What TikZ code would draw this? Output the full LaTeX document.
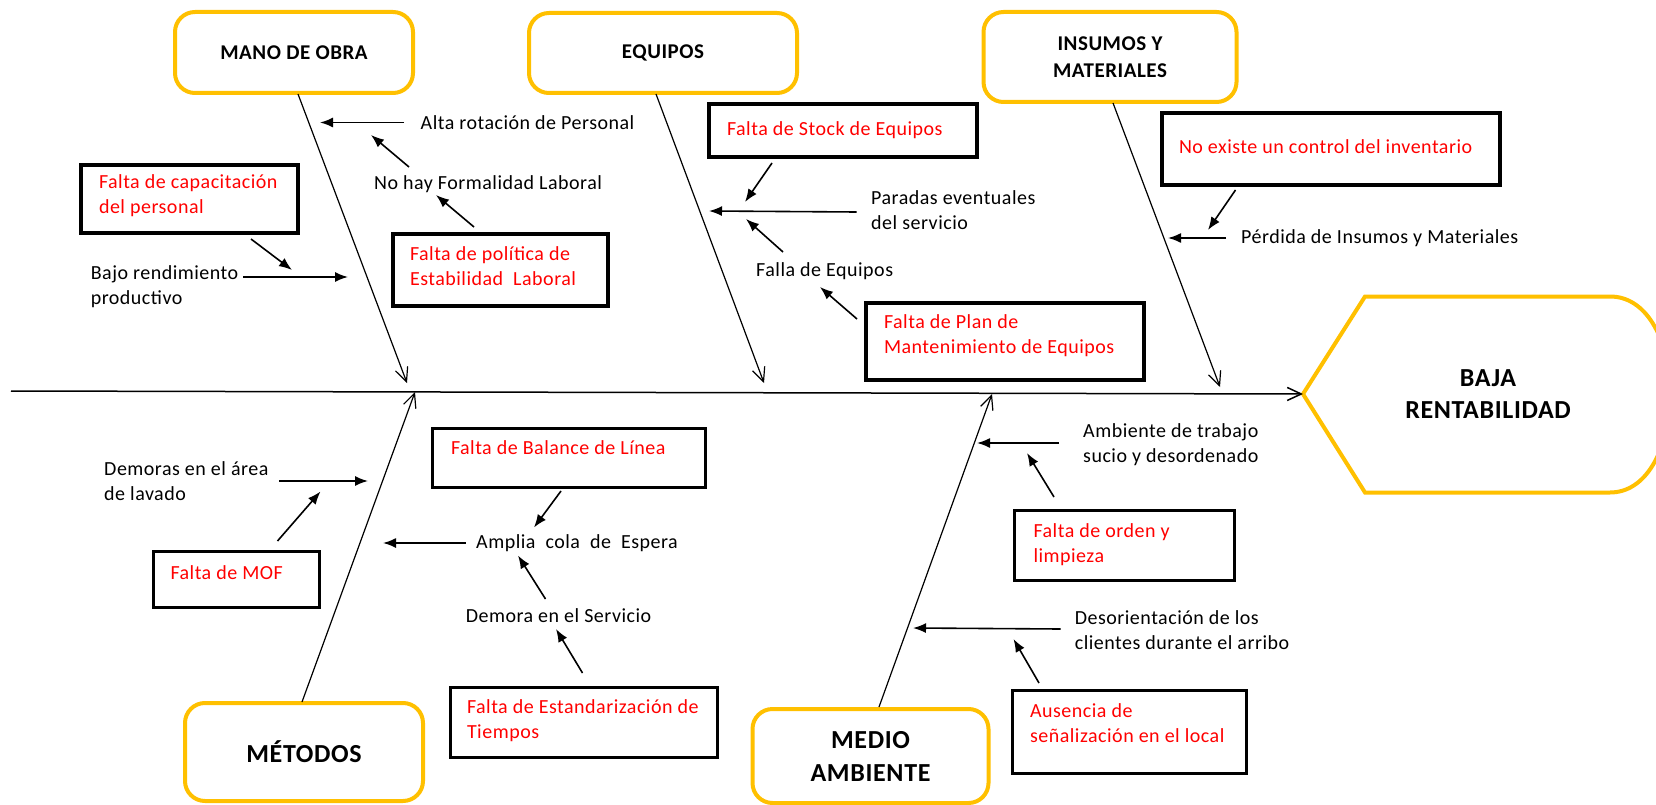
\documentclass[tikz,border=0pt]{standalone}
\usepackage{fontspec}
\setmainfont{Carlito}[LetterSpace=2.5]
\usetikzlibrary{arrows.meta}
\definecolor{catyellow}{HTML}{FFC000}
\definecolor{causered}{HTML}{FF0000}
\newcommand{\boxtxt}[3][0pt]{\raisebox{#1}[\height][\depth]{\makebox[#2][l]{\begin{tabular}{@{}l@{}}#3\end{tabular}}}}
\begin{document}
\begin{tikzpicture}[x=1pt,y=-1pt,
  every node/.style={inner sep=0pt},
  cat/.style={draw=catyellow, line width=4pt, rounded corners=20pt, align=center,
    font=\bfseries\fontsize{21}{27}\selectfont},
  catbig/.style={cat, font=\bfseries\fontsize{26}{33}\selectfont},
  causeA/.style={draw, line width=4.5pt, text=causered, inner xsep=18pt,
    font=\fontsize{20}{25}\selectfont},
  causeB/.style={causeA, line width=3pt},
  lbl/.style={anchor=west, align=left, font=\fontsize{20}{25}\selectfont},
  arr/.style={-{Latex[length=13pt,width=10pt]}, line width=1.6pt},
  bone/.style={-{Straight Barb[length=14pt,width=13pt]}, line width=1.2pt},
]
\useasboundingbox (0,0) rectangle (1656,805);
\fill[white] (0,0) rectangle (1656,805);

% ---------- effect shape ----------
\begin{scope}
\clip (0,0) rectangle (1656,805);
\coordinate (bajaL) at (1303,394);
\draw[catyellow, line width=4pt, line join=miter]
  (bajaL) -- (1365,296.5) -- (1610,296.5)
  .. controls (1645,296.5) and (1668,335) .. (1672,394)
  .. controls (1668,453) and (1645,492.5) .. (1610,492.5)
  -- (1365,492.5) -- cycle;
\end{scope}
\node[align=center, font=\bfseries\fontsize{26}{32}\selectfont] (baja) at (1488,394) {BAJA\\RENTABILIDAD};

% ---------- category boxes ----------
\node[cat, minimum width=238pt, minimum height=81pt] (mano) at (294,52.5) {MANO DE OBRA};
\node[cat, minimum width=268pt, minimum height=80pt] (equipos) at (663,53) {EQUIPOS};
\node[cat, minimum width=253pt, minimum height=90pt] (insumos) at (1110,57) {INSUMOS Y\\MATERIALES};
\node[catbig, minimum width=238pt, minimum height=98pt] (metodos) at (304,752) {MÉTODOS};
\node[catbig, minimum width=236pt, minimum height=94pt] (medio) at (870.5,756) {MEDIO\\AMBIENTE};

% ---------- spine and bones ----------
\coordinate (spineL) at (11,391);
\draw[bone, line width=1.5pt] (spineL) -- (bajaL);

\coordinate (manoB) at (298,94);
\coordinate (manoT) at (407,383);
\coordinate (equiB) at (656,94);
\coordinate (equiT) at (764,383);
\coordinate (insB) at (1113,103);
\coordinate (insT) at (1220,387);
\coordinate (metB) at (302,702);
\coordinate (metT) at (415,392);
\coordinate (medB) at (879,707);
\coordinate (medT) at (992,394);
\draw[bone] (manoB) -- (manoT);
\draw[bone] (equiB) -- (equiT);
\draw[bone] (insB) -- (insT);
\draw[bone] (metB) -- (metT);
\draw[bone] (medB) -- (medT);

% ---------- cause boxes ----------
\node[causeA, minimum width=217pt, minimum height=68pt] (capac) at (189.5,199) {\boxtxt[3pt]{181pt}{Falta de capacitación\\del personal}};
\node[causeA, minimum width=215pt, minimum height=72pt, inner xsep=17pt] (polit) at (500.5,270) {\boxtxt[2pt]{181pt}{Falta de política de\\Estabilidad\ \ Laboral}};
\node[causeA, minimum width=268pt, minimum height=53pt] (stock) at (843,130.5) {\boxtxt{232pt}{Falta de Stock de Equipos}};
\node[causeA, minimum width=338pt, minimum height=72pt, inner xsep=17pt] (invent) at (1331,149) {\boxtxt{304pt}{No existe un control del inventario}};
\node[causeA, minimum width=278pt, minimum height=77pt] (plan) at (1005,341.5) {\boxtxt[6pt]{242pt}{Falta de Plan de\\Mantenimiento de Equipos}};
\node[causeB, minimum width=273pt, minimum height=59pt, inner xsep=19pt] (balance) at (568.5,457.5) {\boxtxt[8.5pt]{235pt}{Falta de Balance de Línea}};
\node[causeB, minimum width=166pt, minimum height=56pt, inner xsep=17.5pt] (mof) at (236,579) {\boxtxt[5pt]{131pt}{Falta de MOF}};
\node[causeB, minimum width=267pt, minimum height=70pt, inner xsep=17pt] (estand) at (583.5,722) {\boxtxt[1.5pt]{233pt}{Falta de Estandarización de\\Tiempos}};
\node[causeB, minimum width=220pt, minimum height=70pt, inner xsep=19.5pt] (orden) at (1124,545) {\boxtxt{181pt}{Falta de orden y\\limpieza}};
\node[causeB, minimum width=234pt, minimum height=83pt] (ausen) at (1129,731.5) {\boxtxt[7pt]{198pt}{Ausencia de\\señalización en el local}};

% ---------- plain labels ----------
\node[lbl] (alta) at (420.5,122.7) {Alta rotación de Personal};
\node[lbl] (nohay) at (374,184) {No hay Formalidad Laboral};
\node[lbl] (bajo) at (90.6,286.5) {Bajo rendimiento\\productivo};
\node[lbl] (paradas) at (871,210.5) {Paradas eventuales\\del servicio};
\node[lbl] (falla) at (756,271) {Falla de Equipos};
\node[lbl] (perdida) at (1241,238) {Pérdida de Insumos y Materiales};
\node[lbl] (demoras) at (104,481.5) {Demoras en el área\\de lavado};
\node[lbl] (amplia) at (476,543) {Amplia\ \ cola\ \ de\ \ Espera};
\node[lbl] (demora) at (465.6,616) {Demora en el Servicio};
\node[lbl] (ambiente) at (1083,445) {Ambiente de trabajo\\sucio y desordenado};
\node[lbl] (desor) at (1074.6,630.5) {Desorientación de los\\clientes durante el arribo};

% ---------- small arrows ----------
% mano de obra
\coordinate (a1s) at (404,122.5);  \coordinate (a1t) at (320,122.5);
\coordinate (a2s) at (409,167);    \coordinate (a2t) at (371,135);
\coordinate (a3s) at (474,227);    \coordinate (a3t) at (436,195);
\coordinate (a4s) at (243,277);    \coordinate (a4t) at (348,277);
\coordinate (a5s) at (251,239);    \coordinate (a5t) at (292,270);
\draw[arr] (a1s) -- (a1t);
\draw[arr] (a2s) -- (a2t);
\draw[arr] (a3s) -- (a3t);
\draw[arr] (a4s) -- (a4t);
\draw[arr] (a5s) -- (a5t);
% equipos
\coordinate (b1s) at (772,163);    \coordinate (b1t) at (745,202);
\coordinate (b2s) at (856.5,212);  \coordinate (b2t) at (709,211);
\coordinate (b3s) at (783,252);    \coordinate (b3t) at (746,219);
\coordinate (b4s) at (857,319);    \coordinate (b4t) at (820,287);
\draw[arr] (b1s) -- (b1t);
\draw[arr] (b2s) -- (b2t);
\draw[arr] (b3s) -- (b3t);
\draw[arr] (b4s) -- (b4t);
% insumos
\coordinate (c1s) at (1235.5,190); \coordinate (c1t) at (1208,230);
\coordinate (c2s) at (1226,238);   \coordinate (c2t) at (1168,238);
\draw[arr] (c1s) -- (c1t);
\draw[arr] (c2s) -- (c2t);
% metodos
\coordinate (d1s) at (279,481);    \coordinate (d1t) at (368,481);
\coordinate (d2s) at (277.5,541);  \coordinate (d2t) at (320.5,491.5);
\coordinate (d3s) at (465.5,543);  \coordinate (d3t) at (383,543);
\coordinate (d4s) at (561,491);    \coordinate (d4t) at (534,527.5);
\coordinate (d5s) at (545.5,599);  \coordinate (d5t) at (518,555.5);
\coordinate (d6s) at (582.5,673);  \coordinate (d6t) at (556,629);
\draw[arr] (d1s) -- (d1t);
\draw[arr] (d2s) -- (d2t);
\draw[arr] (d3s) -- (d3t);
\draw[arr] (d4s) -- (d4t);
\draw[arr] (d5s) -- (d5t);
\draw[arr] (d6s) -- (d6t);
% medio ambiente
\coordinate (e1s) at (1059,443);   \coordinate (e1t) at (977,443);
\coordinate (e2s) at (1054,497);   \coordinate (e2t) at (1027,453);
\coordinate (e3s) at (1060.5,629); \coordinate (e3t) at (913,628);
\coordinate (e4s) at (1039,683);   \coordinate (e4t) at (1013.5,639);
\draw[arr] (e1s) -- (e1t);
\draw[arr] (e2s) -- (e2t);
\draw[arr] (e3s) -- (e3t);
\draw[arr] (e4s) -- (e4t);
\end{tikzpicture}
\end{document}
